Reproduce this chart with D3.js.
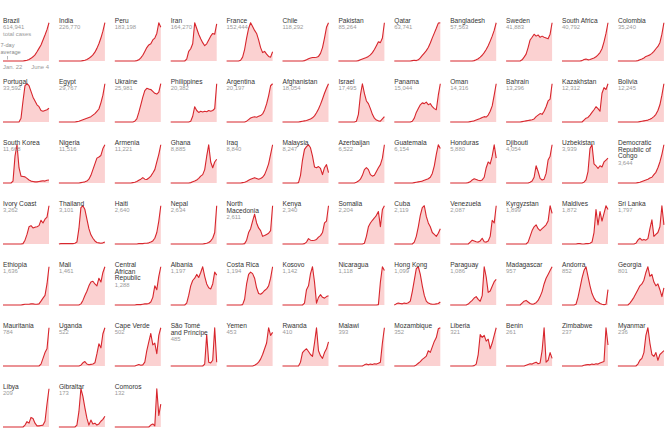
<!DOCTYPE html>
<html><head><meta charset="utf-8">
<script src="https://cdn.jsdelivr.net/npm/d3@7"></script>
<style>
html,body{margin:0;padding:0;background:#fff;}
svg{display:block;}
text{font-family:"Liberation Sans",Arial,sans-serif;}
</style></head><body>
<svg id="chart" width="665" height="439"></svg>
<script>
const countries = ["Brazil","India","Peru","Iran","France","Chile","Pakistan","Qatar","Bangladesh","Sweden","South Africa","Colombia",
"Portugal","Egypt","Ukraine","Philippines","Argentina","Afghanistan","Israel","Panama","Oman","Bahrain","Kazakhstan","Bolivia",
"South Korea","Nigeria","Armenia","Ghana","Iraq","Malaysia","Azerbaijan","Guatemala","Honduras","Djibouti","Uzbekistan","Democratic Republic of Congo",
"Ivory Coast","Thailand","Haiti","Nepal","North Macedonia","Kenya","Somalia","Cuba","Venezuela","Kyrgyzstan","Maldives","Sri Lanka",
"Ethiopia","Mali","Central African Republic","Albania","Costa Rica","Kosovo","Nicaragua","Hong Kong","Paraguay","Madagascar","Andorra","Georgia",
"Mauritania","Uganda","Cape Verde","São Tomé and Príncipe","Yemen","Rwanda","Malawi","Mozambique","Liberia","Benin","Zimbabwe","Myanmar",
"Libya","Gibraltar","Comoros"];

const totals = [614941,226770,183198,164270,152444,118292,85264,63741,57563,41883,40792,35240,
33592,29767,25981,20382,20197,18054,17495,15044,14316,13296,12312,12245,
11668,11516,11221,8885,8840,8247,6522,6154,5880,4054,3939,3644,
3262,3101,2640,2634,2611,2340,2204,2119,2087,1899,1872,1797,
1636,1461,1288,1197,1194,1142,1118,1099,1086,957,852,801,
784,522,502,485,453,410,393,352,321,261,237,236,
209,173,132];

const dateLabels = ["Jan. 22","June 4"];

// 7-day average, 24 samples from Jan. 22 to June 4 (relative units)
const averages = [
[0,0,0,0,0,0,0,0,0,0,0,1,2,4,7,11,16,24,33,42,55,68,82,100],
[0,0,0,0,0,0,0,0,0,0,0,0,1,2,4,7,11,16,23,33,45,60,78,100],
[0,0,0,0,0,0,0,0,0,0,0,1,3,8,15,25,35,42,45,55,60,72,100,88],
[0,0,0,0,0,0,0,0,5,25,32,45,100,85,70,58,48,40,45,55,65,72,70,97],
[0,0,0,0,0,0,0,2,10,30,60,85,100,90,80,72,55,35,22,25,18,12,10,24],
[0,0,0,0,0,0,0,0,0,0,0,1,3,6,8,9,9,10,12,20,35,60,88,100],
[0,0,0,0,0,0,0,0,0,0,1,3,5,7,9,12,16,22,30,40,50,48,60,100],
[0,0,0,0,0,0,0,0,0,1,2,1,3,8,14,20,26,34,45,58,70,82,95,96],
[0,0,0,0,0,0,0,0,0,0,0,0,1,3,6,10,15,22,30,40,52,65,80,100],
[0,0,0,0,0,0,0,0,3,10,18,35,55,62,70,65,68,62,65,62,60,58,70,100],
[0,0,0,0,0,0,0,0,0,0,1,4,5,3,4,6,8,11,16,22,32,50,72,100],
[0,0,0,0,0,0,0,0,0,0,1,3,5,8,12,14,16,20,25,32,38,48,70,100],

[0,0,0,0,0,0,0,0,0,10,55,95,100,95,80,65,55,45,40,30,28,30,32,36],
[0,0,0,0,0,0,0,0,0,1,2,4,6,8,10,12,14,18,22,28,34,50,70,100],
[0,0,0,0,0,0,0,0,0,0,2,8,25,45,65,82,88,86,85,80,75,73,78,100],
[0,0,0,0,0,0,0,0,0,0,2,15,40,30,25,28,26,28,27,30,28,30,35,100],
[0,0,0,0,0,0,0,0,0,0,2,6,10,12,13,12,14,16,20,30,45,65,90,95],
[0,0,0,0,0,0,0,0,0,1,2,3,4,6,8,11,16,24,34,46,60,75,88,100],
[0,0,0,0,0,0,0,0,0,2,20,70,100,75,55,48,35,20,10,5,3,2,8,14],
[0,0,0,0,0,0,0,0,0,2,10,25,35,45,50,48,52,45,48,40,35,32,70,100],
[0,0,0,0,0,0,0,0,0,0,1,2,3,5,7,9,12,14,13,18,28,42,70,100],
[0,0,0,0,0,0,0,0,1,2,3,4,5,6,8,14,18,22,20,28,40,55,60,100],
[0,0,0,0,0,0,0,0,0,0,0,5,10,12,18,25,32,40,35,28,75,90,85,100],
[0,0,0,0,0,0,0,0,0,0,0,1,2,3,4,5,7,10,14,20,30,45,70,100],

[0,0,0,0,0,5,70,100,40,18,17,16,12,8,5,4,3,3,4,5,6,5,7,8],
[0,0,0,0,0,0,0,0,0,0,0,1,2,3,5,10,20,35,50,65,68,72,90,100],
[0,0,0,0,0,0,0,0,0,1,2,4,7,10,14,10,9,13,18,26,35,55,75,100],
[0,0,0,0,0,0,0,0,0,0,1,3,5,8,12,18,22,35,70,100,55,40,55,62],
[0,0,0,0,0,0,0,0,1,2,4,7,10,12,14,12,10,12,15,22,35,50,75,100],
[0,0,0,0,0,0,0,0,1,20,60,88,95,100,92,70,42,40,43,38,22,40,48,27],
[0,0,0,0,0,0,0,0,0,2,5,10,20,35,40,35,22,18,20,30,40,48,65,100],
[0,0,0,0,0,0,0,0,0,0,1,2,3,4,5,7,9,11,15,25,45,75,100,90],
[0,0,0,0,0,0,0,0,0,1,3,8,11,9,7,6,8,15,40,55,50,70,100,65],
[0,0,0,0,0,0,0,0,0,0,0,0,2,5,15,45,30,12,8,10,25,60,70,100],
[0,0,0,0,0,0,0,0,0,0,0,2,8,30,90,100,50,45,38,45,42,55,60,65],
[0,0,0,0,0,0,0,0,0,0,1,2,4,6,8,10,13,15,22,28,40,55,75,100],

[0,0,0,0,0,0,0,0,0,0,1,10,25,45,48,42,44,45,48,62,55,65,70,100],
[0,1,1,1,1,1,1,1,2,5,40,95,100,90,65,40,24,15,8,4,3,2,3,5],
[0,0,0,0,0,0,0,0,0,0,0,0,1,1,1,2,2,3,5,8,15,30,60,100],
[0,0,0,0,0,0,0,0,0,0,0,0,0,0,0,0,0,1,2,4,8,15,30,100],
[0,0,0,0,0,0,0,0,0,1,10,30,40,60,78,55,42,35,20,22,25,28,35,100],
[0,0,0,0,0,0,0,0,0,0,0,1,5,14,10,9,10,12,18,22,30,55,60,100],
[0,0,0,0,0,0,0,0,0,0,0,0,0,2,20,45,55,62,68,75,85,45,90,100],
[0,0,0,0,0,0,0,0,0,0,5,20,45,75,95,100,72,55,45,30,25,20,28,40],
[0,0,0,0,0,0,0,0,0,0,5,10,8,6,5,8,15,6,5,8,20,62,55,100],
[0,0,0,0,0,0,0,0,0,0,0,5,20,35,45,50,40,35,40,45,50,60,100,80],
[0,0,0,0,0,0,0,0,1,1,0,0,1,1,2,5,30,90,50,85,60,80,100,90],
[0,0,0,0,0,0,0,0,0,2,10,15,10,12,10,14,40,63,20,25,30,45,100,50],

[0,0,0,0,0,0,0,0,0,0,1,2,2,2,3,3,2,2,3,10,18,25,55,100],
[0,0,0,0,0,0,0,0,0,0,0,3,12,25,36,50,60,62,55,50,70,60,85,100],
[0,0,0,0,0,0,0,0,0,0,0,1,1,1,2,3,3,4,8,20,50,40,75,100],
[0,0,0,0,0,0,0,0,5,25,50,64,70,80,72,85,100,75,55,45,42,55,86,78],
[0,0,0,0,0,0,0,0,1,15,55,80,86,82,70,45,30,28,32,38,42,50,70,100],
[0,0,0,0,0,0,0,0,0,0,0,5,40,50,82,100,60,5,20,27,20,18,22,24],
[0,0,0,0,0,0,0,0,0,0,0,0,0,0,0,0,0,0,0,0,1,60,100,90],
[0,3,5,4,3,5,4,6,10,35,65,95,100,80,50,25,10,5,3,2,2,3,4,8],
[0,0,0,0,0,0,0,0,0,2,6,10,15,18,12,8,20,82,60,27,30,40,50,55],
[0,0,0,0,0,0,0,0,5,10,12,8,4,2,3,6,12,22,35,55,70,80,90,100],
[0,0,0,0,0,0,0,2,20,45,70,90,100,75,50,30,18,10,8,4,2,1,2,40],
[0,0,0,0,0,0,5,12,20,30,40,50,55,65,85,100,75,80,60,50,55,40,22,45],

[0,0,0,0,0,0,0,0,0,0,0,0,0,0,0,0,0,0,0,5,20,35,45,100],
[0,0,0,0,0,0,0,0,0,0,0,2,8,11,5,3,4,5,8,30,55,45,80,95],
[0,0,0,0,0,0,0,0,0,0,0,2,4,2,3,10,40,63,85,55,60,32,80,100],
[0,0,0,0,0,0,0,0,0,0,0,0,0,0,0,0,0,5,82,10,8,15,100,10],
[0,0,0,0,0,0,0,0,0,0,0,0,0,0,2,5,10,18,30,45,60,100,80,88],
[0,0,0,0,0,0,0,0,0,10,35,41,45,38,30,25,60,100,40,27,20,35,45,63],
[0,0,0,0,0,0,0,0,0,0,0,0,0,3,5,3,5,4,6,5,7,10,60,100],
[0,0,0,0,0,0,0,0,0,0,0,2,5,8,12,15,18,28,25,35,45,52,68,70],
[0,0,0,0,0,0,0,0,0,0,0,0,1,5,30,82,75,80,65,70,45,60,80,100],
[0,0,0,0,0,0,0,0,0,0,2,4,6,5,8,10,6,8,40,100,10,15,35,20],
[0,0,0,0,0,0,0,0,0,0,0,2,3,4,3,5,4,6,5,8,10,12,100,55],
[0,0,0,0,0,0,0,0,0,0,5,15,20,35,80,100,60,30,25,35,15,30,35,40],

[0,0,0,0,0,0,0,0,0,0,0,5,14,10,25,22,10,3,3,4,5,15,60,100],
[0,0,0,0,0,0,0,0,0,5,40,100,80,50,23,5,18,8,10,5,8,15,20,28],
[0,0,0,0,0,0,0,0,0,0,0,0,0,0,0,0,0,0,5,8,3,100,30,60]
];

const svg = d3.select("#chart");
const cols = 12, colW = 55.9, left = 3, cellW = 46, rowH = 61, firstBase = 61, cellH = 44;
const fmt = d3.format(",");
const lineColor = "#d7262d", fillColor = "#fbd1d1";

countries.forEach((name, k) => {
  const c = k % cols, r = Math.floor(k / cols);
  const x0 = left + c * colW, base = firstBase + r * rowH, top = base - cellH;
  const vals = averages[k];
  const x = d3.scaleLinear().domain([0, vals.length - 1]).range([x0, x0 + cellW]);
  const y = d3.scaleLinear().domain([0, d3.max(vals) * 1.15]).range([base, top]);
  const g = svg.append("g");
  g.append("path").datum(vals)
    .attr("d", d3.area().x((d, i) => x(i)).y0(base).y1(d => y(d)))
    .attr("fill", fillColor);
  g.append("path").datum(vals)
    .attr("d", d3.line().x((d, i) => x(i)).y(d => y(d)))
    .attr("fill", "none").attr("stroke", lineColor).attr("stroke-width", 1.1)
    .attr("stroke-linejoin", "round");

  // label with word wrap
  const words = name.split(" ");
  const lines = [];
  let cur = "";
  const meas = svg.append("text").attr("font-size", 6.6).attr("visibility", "hidden");
  words.forEach(w => {
    const t = cur ? cur + " " + w : w;
    meas.text(t);
    if (cur && meas.node().getComputedTextLength() > 40) { lines.push(cur); cur = w; }
    else cur = t;
  });
  lines.push(cur);
  meas.remove();
  let ty = top + 5.8;
  lines.forEach(l => {
    g.append("text").attr("x", x0).attr("y", ty).attr("font-size", 6.6)
      .attr("fill", "#333").text(l);
    ty += 6.8;
  });
  g.append("text").attr("x", x0).attr("y", ty - 0.3).attr("font-size", 5.9)
    .attr("fill", "#9a9a9a").text(fmt(totals[k]));
  if (k === 0) {
    g.append("text").attr("x", x0).attr("y", ty + 6.2).attr("font-size", 5.9)
      .attr("fill", "#9a9a9a").text("total cases");
    g.append("text").attr("x", 0.5).attr("y", 47).attr("font-size", 5.6)
      .attr("fill", "#888").text("7-day");
    g.append("text").attr("x", 0.5).attr("y", 53.5).attr("font-size", 5.6)
      .attr("fill", "#888").text("average");
    g.append("line").attr("x1", 7.5).attr("x2", 7.5).attr("y1", 56).attr("y2", 59.5)
      .attr("stroke", "#888").attr("stroke-width", 0.6);
    g.append("text").attr("x", x0).attr("y", base + 7.5).attr("font-size", 5.9)
      .attr("fill", "#9a9a9a").text(dateLabels[0]);
    g.append("text").attr("x", x0 + cellW).attr("y", base + 7.5).attr("font-size", 5.9)
      .attr("text-anchor", "end").attr("fill", "#9a9a9a").text(dateLabels[1]);
  }
});
</script>
</body></html>
